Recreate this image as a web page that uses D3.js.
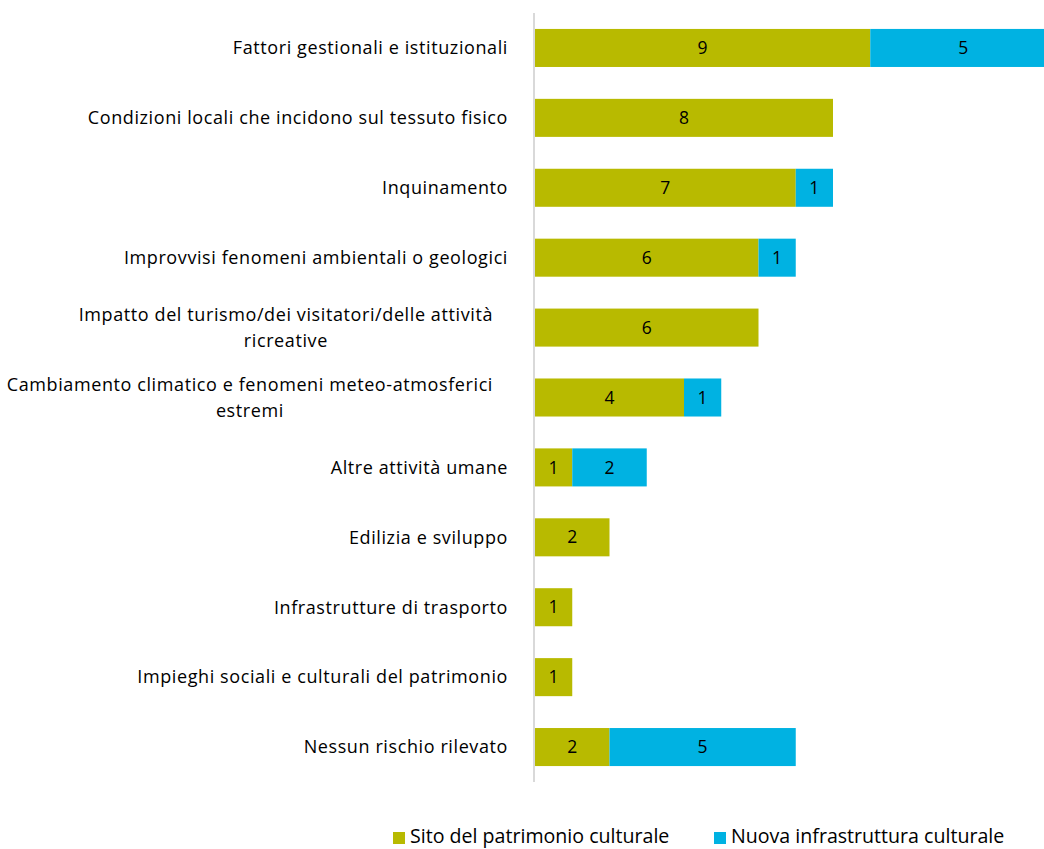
<!DOCTYPE html>
<html>
<head>
<meta charset="utf-8">
<script src="https://cdn.jsdelivr.net/npm/d3@7"></script>
<style>
  body { margin: 0; background: #fff; }
  svg { display: block; font-family: "Open Sans", sans-serif; }
</style>
</head>
<body>
<svg id="chart" width="1044" height="849"></svg>
<script>
// Categories (top to bottom), each entry split into display lines
const categories = [
  ["Fattori gestionali e istituzionali"],
  ["Condizioni locali che incidono sul tessuto fisico"],
  ["Inquinamento"],
  ["Improvvisi fenomeni ambientali o geologici"],
  ["Impatto del turismo/dei visitatori/delle attività", "ricreative"],
  ["Cambiamento climatico e fenomeni meteo-atmosferici", "estremi"],
  ["Altre attività umane"],
  ["Edilizia e sviluppo"],
  ["Infrastrutture di trasporto"],
  ["Impieghi sociali e culturali del patrimonio"],
  ["Nessun rischio rilevato"]
];
const seriesNames = ["Sito del patrimonio culturale", "Nuova infrastruttura culturale"];
const sito  = [9, 8, 7, 6, 6, 4, 1, 2, 1, 1, 2];
const nuova = [5, 0, 1, 1, 0, 1, 2, 0, 0, 0, 5];
const colors = ["#B8BA00", "#00B2E2"];

const svg = d3.select("#chart");
const x0 = 535;
const x = d3.scaleLinear().domain([0, 14]).range([x0, x0 + 14 * 37.25]);
const keys = categories.map((c, i) => i);
const y = d3.scaleBand().domain(keys).range([13, 782]).paddingInner(0.456).paddingOuter(0.228);

const rows = keys.map(i => ({ i, values: [sito[i], nuova[i]] }));
const stack = d3.stack().keys([0, 1]).value((d, k) => d.values[k]);
const layers = stack(rows);

// axis line
svg.append("line")
  .attr("x1", x0 - 1).attr("x2", x0 - 1)
  .attr("y1", 13).attr("y2", 782)
  .attr("stroke", "#d9d9d9").attr("stroke-width", 2);

// stacked bars
layers.forEach((layer, k) => {
  const g = svg.append("g");
  layer.forEach((seg, i) => {
    const v = seg[1] - seg[0];
    if (v <= 0) return;
    g.append("rect")
      .attr("x", x(seg[0]))
      .attr("y", y(i))
      .attr("width", x(seg[1]) - x(seg[0]))
      .attr("height", y.bandwidth())
      .attr("fill", colors[k]);
    g.append("text")
      .attr("x", (x(seg[0]) + x(seg[1])) / 2)
      .attr("y", y(i) + y.bandwidth() / 2)
      .attr("dy", "0.35em")
      .attr("text-anchor", "middle")
      .attr("font-size", 17.5)
      .attr("fill", "#000")
      .text(v);
  });
});

// category labels: single lines right-aligned, wrapped lines centred as a block
const labelG = svg.append("g");
categories.forEach((lines, i) => {
  const cy = y(i) + y.bandwidth() / 2;
  const lh = 26;
  const t = labelG.append("text")
    .attr("font-size", 18)
    .attr("letter-spacing", 0.6)
    .attr("fill", "#000");
  const spans = lines.map((ln, j) => t.append("tspan")
    .attr("y", cy + (j - (lines.length - 1) / 2) * lh)
    .attr("dy", "0.35em")
    .text(ln));
  const widths = spans.map(s => s.node().getComputedTextLength());
  const maxW = d3.max(widths);
  const right = lines.length > 1 ? 493 : 508;
  const center = right - maxW / 2;
  spans.forEach(s => s.attr("x", center).attr("text-anchor", "middle"));
});

// legend
const legend = svg.append("g");
const legendX = [393, 714];
seriesNames.forEach((name, k) => {
  legend.append("rect")
    .attr("x", legendX[k]).attr("y", 832)
    .attr("width", 12).attr("height", 12)
    .attr("fill", colors[k]);
  legend.append("text")
    .attr("x", legendX[k] + 17).attr("y", 843)
    .attr("font-size", 19.6)
    .attr("fill", "#000")
    .text(name);
});
</script>
</body>
</html>
